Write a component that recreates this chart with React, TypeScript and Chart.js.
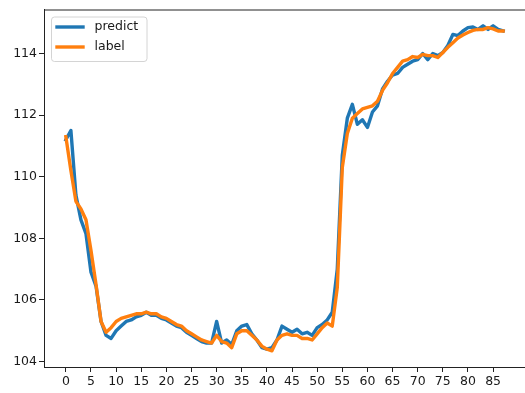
import { useEffect, useRef } from "react";
import { Chart, registerables } from "chart.js";

Chart.register(...registerables);

const SERIES_NAMES = ["predict", "label"];

const PREDICT = [
  111.2, 111.5, 109.4, 108.6, 108.15, 106.9, 106.45, 105.3, 104.85, 104.75,
  105.0, 105.15, 105.3, 105.35, 105.45, 105.5, 105.6, 105.5, 105.5, 105.4,
  105.35, 105.25, 105.15, 105.1, 104.95, 104.85, 104.75, 104.65, 104.6, 104.6,
  105.3, 104.6, 104.7, 104.55, 105.0, 105.15, 105.2, 104.9, 104.7, 104.45,
  104.4, 104.45, 104.7, 105.15, 105.05, 104.95, 105.05, 104.9, 104.95, 104.85,
  105.1, 105.2, 105.35, 105.6, 107.0, 110.7, 111.9, 112.35, 111.7, 111.85,
  111.6, 112.1, 112.3, 112.85, 113.1, 113.3, 113.35, 113.55, 113.65, 113.75,
  113.8, 114.0, 113.8, 114.0, 113.93, 114.03, 114.26, 114.62, 114.58, 114.73,
  114.84, 114.86, 114.78, 114.9, 114.78, 114.9, 114.78, 114.73,
];

const LABEL = [
  111.3, 110.2, 109.2, 108.95, 108.6, 107.6, 106.5, 105.3, 104.95, 105.1,
  105.3, 105.4, 105.45, 105.5, 105.55, 105.55, 105.6, 105.55, 105.55, 105.45,
  105.4, 105.3, 105.2, 105.15, 105.0, 104.9, 104.8, 104.7, 104.65, 104.6,
  104.85, 104.65, 104.6, 104.45, 104.9, 105.0, 105.0, 104.85, 104.7, 104.5,
  104.4, 104.35, 104.7, 104.85, 104.9, 104.85, 104.85, 104.75, 104.75, 104.7,
  104.9, 105.1, 105.25, 105.15, 106.4, 110.3, 111.4, 111.9, 112.05, 112.2,
  112.25, 112.3, 112.45, 112.8, 113.05, 113.35, 113.55, 113.75, 113.8, 113.9,
  113.87, 113.97, 113.93, 113.93, 113.87, 114.03, 114.2, 114.35, 114.5, 114.6,
  114.68, 114.75, 114.78, 114.78, 114.84, 114.8, 114.73, 114.73,
];

const X_TICKS = [0, 5, 10, 15, 20, 25, 30, 35, 40, 45, 50, 55, 60, 65, 70, 75, 80, 85];
const Y_TICKS = [104, 106, 108, 110, 112, 114];

const COLORS = ["#1f77b4", "#ff7f0e"];
const FONT_FAMILY = "'DejaVu Sans', Verdana, sans-serif";
const TEXT_COLOR = "#1a1a1a";

export default function App() {
  const ref = useRef<HTMLCanvasElement>(null);

  useEffect(() => {
    document.body.style.margin = "0";
    const canvas = ref.current;
    if (!canvas) return;

    const n = PREDICT.length;
    const all = [...PREDICT, ...LABEL];
    const lo = Math.min(...all);
    const hi = Math.max(...all);
    const yPad = (hi - lo) * 0.05;
    const xPad = (n - 1) * 0.05;

    const font = { family: FONT_FAMILY, size: 12.5 };

    const framePlugin = {
      id: "mplFrame",
      afterDraw(chart: any) {
        const ctx = chart.ctx;
        const ca = chart.chartArea;
        ctx.save();
        ctx.strokeStyle = "#222";
        ctx.lineWidth = 1;
        ctx.beginPath();
        ctx.moveTo(ca.left, ca.top + 0.5);
        ctx.lineTo(ca.right, ca.top + 0.5);
        ctx.stroke();

        // legend (upper left, matplotlib style)
        const x0 = ca.left + 7.5;
        const y0 = ca.top + 7.5;
        const w = 95.5;
        const h = 44.5;
        ctx.beginPath();
        ctx.roundRect(x0, y0, w, h, 3);
        ctx.fillStyle = "rgba(255,255,255,0.8)";
        ctx.fill();
        ctx.strokeStyle = "rgba(204,204,204,0.85)";
        ctx.lineWidth = 1;
        ctx.stroke();

        SERIES_NAMES.forEach((name, i) => {
          const yy = y0 + 10 + i * 20;
          ctx.beginPath();
          ctx.strokeStyle = COLORS[i];
          ctx.lineWidth = 3.4;
          ctx.lineCap = "square";
          ctx.moveTo(x0 + 5.5, yy);
          ctx.lineTo(x0 + 31.5, yy);
          ctx.stroke();
          ctx.fillStyle = TEXT_COLOR;
          ctx.font = `12.5px ${FONT_FAMILY}`;
          ctx.textBaseline = "middle";
          ctx.textAlign = "left";
          ctx.fillText(name, x0 + 43, yy);
        });
        ctx.restore();
      },
    };

    const chart = new Chart(canvas, {
      type: "line",
      data: {
        datasets: [
          {
            label: SERIES_NAMES[0],
            data: PREDICT.map((v, i) => ({ x: i, y: v })),
            borderColor: COLORS[0],
            backgroundColor: COLORS[0],
            borderWidth: 3.4,
            pointRadius: 0,
            tension: 0,
            borderJoinStyle: "round",
            borderCapStyle: "square",
            order: 1,
          },
          {
            label: SERIES_NAMES[1],
            data: LABEL.map((v, i) => ({ x: i, y: v })),
            borderColor: COLORS[1],
            backgroundColor: COLORS[1],
            borderWidth: 3.4,
            pointRadius: 0,
            tension: 0,
            borderJoinStyle: "round",
            borderCapStyle: "square",
            order: 0,
          },
        ],
      },
      options: {
        responsive: false,
        animation: false,
        events: [],
        layout: { padding: { top: 7, right: 0, left: 0, bottom: 0 } },
        plugins: {
          legend: { display: false },
          tooltip: { enabled: false },
        },
        scales: {
          x: {
            type: "linear",
            min: -xPad,
            max: n - 1 + xPad,
            afterBuildTicks: (scale: any) => {
              scale.ticks = X_TICKS.map((v) => ({ value: v }));
            },
            afterFit: (scale: any) => {
              scale.height = 26;
            },
            grid: {
              display: true,
              drawOnChartArea: false,
              drawTicks: true,
              tickLength: 5,
              color: "#222",
              lineWidth: 1,
            },
            border: { display: true, color: "#222", width: 1 },
            ticks: {
              autoSkip: false,
              maxRotation: 0,
              padding: 2,
              color: TEXT_COLOR,
              font,
              callback: (v: any) => String(v),
            },
          },
          y: {
            type: "linear",
            min: lo - yPad,
            max: hi + yPad,
            afterBuildTicks: (scale: any) => {
              scale.ticks = Y_TICKS.map((v) => ({ value: v }));
            },
            afterFit: (scale: any) => {
              scale.width = 44;
            },
            grid: {
              display: true,
              drawOnChartArea: false,
              drawTicks: true,
              tickLength: 5,
              color: "#222",
              lineWidth: 1,
            },
            border: { display: true, color: "#222", width: 1 },
            ticks: {
              autoSkip: false,
              padding: 2,
              color: TEXT_COLOR,
              font,
              callback: (v: any) => String(v),
            },
          },
        },
      },
      plugins: [framePlugin],
    } as any);

    return () => chart.destroy();
  }, []);

  return (
    <div style={{ width: 525, height: 393, overflow: "hidden", background: "#fff" }}>
      <canvas ref={ref} width={525} height={393} style={{ display: "block", width: 525, height: 393 }} />
    </div>
  );
}
